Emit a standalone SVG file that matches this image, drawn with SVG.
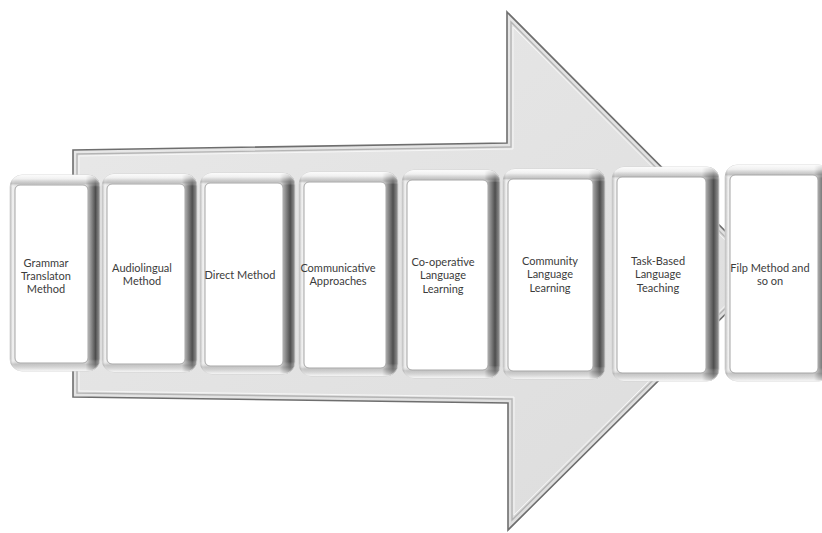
<svg xmlns="http://www.w3.org/2000/svg" width="822" height="533" viewBox="0 0 822 533">
<defs>
<linearGradient id="arrowFill" x1="0" y1="0" x2="1" y2="1">
<stop offset="0" stop-color="#e9e9e9"/>
<stop offset="1" stop-color="#dcdcdc"/>
</linearGradient>
<linearGradient id="boxH" x1="0" y1="0" x2="1" y2="0">
<stop offset="0" stop-color="#b8b8b8"/>
<stop offset="0.03" stop-color="#f2f2f2"/>
<stop offset="0.06" stop-color="#e6e6e6"/>
<stop offset="0.84" stop-color="#ececec"/>
<stop offset="0.88" stop-color="#a8a8a8"/>
<stop offset="0.95" stop-color="#4e4e4e"/>
<stop offset="1" stop-color="#9a9a9a"/>
</linearGradient>
<linearGradient id="boxV" x1="0" y1="0" x2="0" y2="1">
<stop offset="0" stop-color="#ffffff" stop-opacity="0.9"/>
<stop offset="0.02" stop-color="#f4f4f4" stop-opacity="0.7"/>
<stop offset="0.045" stop-color="#9a9a9a" stop-opacity="0.5"/>
<stop offset="0.06" stop-color="#ffffff" stop-opacity="0"/>
<stop offset="0.94" stop-color="#ffffff" stop-opacity="0"/>
<stop offset="0.965" stop-color="#9a9a9a" stop-opacity="0.45"/>
<stop offset="1" stop-color="#ffffff" stop-opacity="0.7"/>
</linearGradient>
</defs>
<style>
.face{fill:#ffffff;stroke:#a6a6a6;stroke-width:1}
.outer{fill:url(#boxH);stroke:#d0d0d0;stroke-width:0.8}
.overlay{fill:url(#boxV)}
.lbl{font-family:Lato,"Liberation Sans",sans-serif;font-size:11px;fill:#3c3c3c;text-anchor:middle}
</style>

<g id="arrow">
<polygon points="73,150 507,143 507,12 767,273 508,530 508,403 73,397" fill="url(#arrowFill)" stroke="#6e6e6e" stroke-width="1.6" stroke-linejoin="miter"/>
<polygon points="77,154 511,147 511,22 761,273 512,520 512,399 77,393" fill="none" stroke="#b4b4b4" stroke-width="1.4"/>
<polygon points="79,156 513,149 513,27 758,273 514,515 514,397 79,391" fill="none" stroke="#f6f6f6" stroke-width="1"/>
</g>

<g id="connectors"></g>

<g id="node1">
<rect class="outer" x="10" y="175" width="90" height="196" rx="12"/>
<rect class="overlay" x="10" y="175" width="90" height="196" rx="12"/>
<rect class="face" x="15" y="185" width="73" height="178" rx="5"/>
<text class="lbl" x="46" y="267">Grammar</text>
<text class="lbl" x="46" y="280">Translaton</text>
<text class="lbl" x="46" y="293">Method</text>
</g>

<g id="node2">
<rect class="outer" x="102" y="174" width="95" height="198" rx="12"/>
<rect class="overlay" x="102" y="174" width="95" height="198" rx="12"/>
<rect class="face" x="107" y="184" width="78" height="180" rx="5"/>
<text class="lbl" x="142" y="272">Audiolingual</text>
<text class="lbl" x="142" y="285">Method</text>
</g>

<g id="node3">
<rect class="outer" x="200" y="173" width="95" height="201" rx="12"/>
<rect class="overlay" x="200" y="173" width="95" height="201" rx="12"/>
<rect class="face" x="205" y="183" width="78" height="183" rx="5"/>
<text class="lbl" x="240" y="279">Direct Method</text>
</g>

<g id="node4">
<rect class="outer" x="299" y="172" width="99" height="204" rx="12"/>
<rect class="overlay" x="299" y="172" width="99" height="204" rx="12"/>
<rect class="face" x="304" y="182" width="82" height="186" rx="5"/>
<text class="lbl" x="338" y="272">Communicative</text>
<text class="lbl" x="338" y="285">Approaches</text>
</g>

<g id="node5">
<rect class="outer" x="402" y="170" width="98" height="208" rx="12"/>
<rect class="overlay" x="402" y="170" width="98" height="208" rx="12"/>
<rect class="face" x="407" y="180" width="81" height="190" rx="5"/>
<text class="lbl" x="443" y="266">Co-operative</text>
<text class="lbl" x="443" y="279">Language</text>
<text class="lbl" x="443" y="293">Learning</text>
</g>

<g id="node6">
<rect class="outer" x="503" y="169" width="102" height="210" rx="12"/>
<rect class="overlay" x="503" y="169" width="102" height="210" rx="12"/>
<rect class="face" x="508" y="179" width="85" height="192" rx="5"/>
<text class="lbl" x="550" y="265">Community</text>
<text class="lbl" x="550" y="278">Language</text>
<text class="lbl" x="550" y="292">Learning</text>
</g>

<g id="node7">
<rect class="outer" x="612" y="167" width="107" height="214" rx="12"/>
<rect class="overlay" x="612" y="167" width="107" height="214" rx="12"/>
<rect class="face" x="617" y="177" width="89" height="196" rx="5"/>
<text class="lbl" x="658" y="265">Task-Based</text>
<text class="lbl" x="658" y="278">Language</text>
<text class="lbl" x="658" y="292">Teaching</text>
</g>

<g id="node8">
<rect class="outer" x="725" y="165" width="106" height="216" rx="12"/>
<rect class="overlay" x="725" y="165" width="106" height="216" rx="12"/>
<rect class="face" x="730" y="175" width="88" height="198" rx="5"/>
<text class="lbl" x="770" y="272">Filp Method and</text>
<text class="lbl" x="770" y="285">so on</text>
</g>
</svg>
